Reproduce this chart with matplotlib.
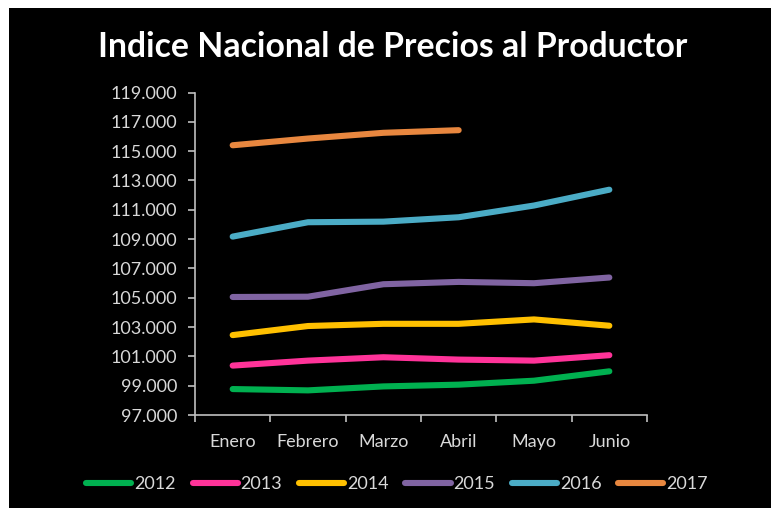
import matplotlib
matplotlib.use("Agg")
import matplotlib.pyplot as plt
from matplotlib.patches import Rectangle
import numpy as np

months = ["Enero", "Febrero", "Marzo", "Abril", "Mayo", "Junio"]
years = ["2012", "2013", "2014", "2015", "2016", "2017"]
v2012 = [98.77, 98.68, 98.95, 99.07, 99.34, 99.98]
v2013 = [100.37, 100.71, 100.94, 100.78, 100.71, 101.08]
v2014 = [102.45, 103.07, 103.22, 103.22, 103.52, 103.09]
v2015 = [105.05, 105.07, 105.92, 106.08, 105.99, 106.38]
v2016 = [109.17, 110.15, 110.19, 110.49, 111.29, 112.37]
v2017 = [115.40, 115.86, 116.25, 116.43]
series = [v2012, v2013, v2014, v2015, v2016, v2017]
colors = ["#00B050", "#FF3399", "#FFC000", "#8064A2", "#4BACC6", "#E8873F"]
yticks = [97, 99, 101, 103, 105, 107, 109, 111, 113, 115, 117, 119]

FONT = "Lato"
txt = "#D9D9D9"
axc = "#BFBFBF"

W, H = 771, 508
fig = plt.figure(figsize=(W / 100, H / 100), dpi=100, facecolor="white")
fig.add_artist(Rectangle((9 / W, 0), 1 - 9 / W, 1 - 8 / H, transform=fig.transFigure,
                         facecolor="black", edgecolor="none", zorder=-10))

ax = fig.add_axes([195 / W, 1 - 415 / H, (647 - 195) / W, (415 - 92.5) / H])
ax.set_facecolor("black")
x = np.arange(len(months))
for vals, c, yr in zip(series, colors, years):
    ax.plot(x[:len(vals)], vals, color=c, lw=4.4, solid_capstyle="round",
            solid_joinstyle="round", label=yr)

ax.set_xlim(-0.5, 5.5)
ax.set_ylim(97, 119)
ax.set_yticks(yticks)
ax.set_yticklabels([f"{v:.3f}" for v in yticks], fontfamily=FONT, fontsize=13, color=txt)
ax.set_xticks(x)
ax.set_xticklabels(months, fontfamily=FONT, fontsize=13, color=txt)
ax.set_xticks(np.arange(-0.5, 6.0, 1.0), minor=True)
ax.tick_params(axis="x", which="major", length=0, pad=14)
ax.tick_params(axis="x", which="minor", length=5, color=axc, width=1.2, direction="out")
ax.tick_params(axis="y", length=5, color=axc, width=1.2, pad=8)
for s in ["top", "right"]:
    ax.spines[s].set_visible(False)
for s in ["left", "bottom"]:
    ax.spines[s].set_color(axc)
    ax.spines[s].set_linewidth(1.2)

fig.text(393 / W, 1 - 47 / H, "Indice Nacional de Precios al Productor", ha="center", va="center",
         fontfamily=FONT, fontweight="bold", fontsize=24.3, color="white")

leg = fig.legend(loc="center", bbox_to_anchor=(397 / W, 1 - 484 / H), ncol=6, frameon=False,
                 prop={"family": FONT, "size": 13}, handlelength=2.5, handletextpad=0.15,
                 columnspacing=0.94, labelcolor=txt)

fig.savefig("out.png", dpi=100, facecolor=fig.get_facecolor())
